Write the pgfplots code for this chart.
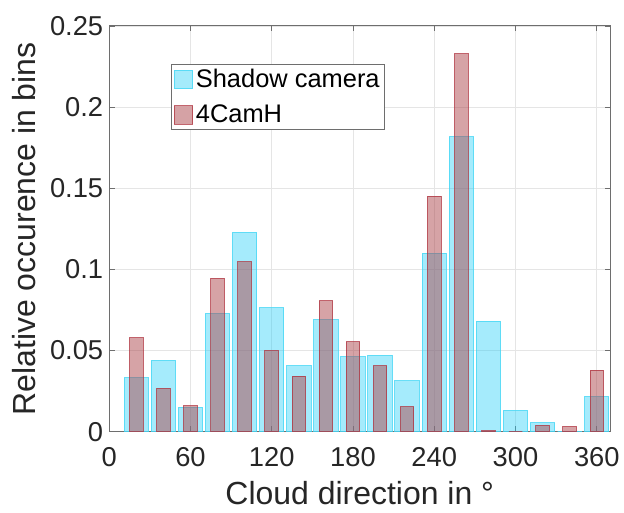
\documentclass[border=0pt]{standalone}
\usepackage{pgfplots}
\pgfplotsset{compat=1.18}
\usepackage{fontspec}
\setmainfont{Liberation Sans}
\definecolor{cyanbar}{RGB}{30,205,247}
\definecolor{cyanedge}{RGB}{70,215,245}
\definecolor{redbar}{RGB}{173,71,77}
\definecolor{rededge}{RGB}{175,50,62}
\definecolor{axgray}{RGB}{110,110,110}
\definecolor{txtgray}{RGB}{38,38,38}
\pgfplotstableread{
x shadow cam
20 0.0332 0.0578
40 0.0439 0.0267
60 0.0150 0.0160
80 0.0728 0.0945
100 0.1228 0.1046
120 0.0763 0.0500
140 0.0406 0.0342
160 0.0689 0.0806
180 0.0461 0.0554
200 0.0470 0.0406
220 0.0314 0.0154
240 0.1101 0.1452
260 0.1817 0.2328
280 0.0681 0.0006
300 0.0131 0.0000
320 0.0055 0.0039
340 0.0000 0.0031
360 0.0217 0.0379
}\histdata
\begin{document}
\begin{tikzpicture}
\begin{axis}[
  scale only axis, width=376.3pt, height=304.7pt,
  xmin=0, xmax=370, ymin=0, ymax=0.25,
  xtick={0,60,120,180,240,300,360},
  ytick={0,0.05,0.1,0.15,0.2,0.25},
  yticklabels={0,0.05,0.1,0.15,0.2,0.25},
  scaled y ticks=false,
  /pgf/number format/assume math mode=true,
  tick label style={font=\fontsize{20.5}{23}\selectfont, text=txtgray},
  xticklabel style={yshift=-8.5pt},
  yticklabel style={xshift=-1pt},
  label style={font=\fontsize{24}{27}\selectfont, text=txtgray},
  xlabel={Cloud direction in °},
  xlabel style={yshift=-4pt},
  ylabel={Relative occurence in bins},
  ylabel style={yshift=3.5pt},
  tick align=inside,
  major tick length=4pt,
  tick style={axgray, line width=0.6pt},
  axis line style={axgray, line width=0.75pt},
  grid=major,
  major grid style={black!10, line width=0.6pt},
  legend style={at={(0.124,0.906)}, anchor=north west, draw=axgray, line width=0.75pt, fill=white,
    font=\fontsize{19.1}{22}\selectfont, inner sep=1.5pt, row sep=7.5pt,
    /tikz/every even column/.append style={column sep=1pt}},
  legend cell align=left,
  legend image code/.code={\draw[#1, line width=0.75pt] (-2pt,-7pt) rectangle (11.8pt,7pt);},
]
\addplot[ybar, bar width=18, bar shift=0pt, fill=cyanbar, fill opacity=0.4, draw=cyanedge, draw opacity=0.8, line width=0.75pt]
  table[x=x, y=shadow] {\histdata};
\addlegendentry{Shadow camera}
\addplot[ybar, bar width=10, bar shift=0pt, fill=redbar, fill opacity=0.5, draw=rededge, draw opacity=0.75, line width=0.75pt]
  table[x=x, y=cam] {\histdata};
\addlegendentry{4CamH}
\end{axis}
\path[use as bounding box] ([shift={(-82pt,-60.5pt)}]current axis.south west) rectangle ([shift={(9.75pt,19.5pt)}]current axis.north east);
\end{tikzpicture}
\end{document}
